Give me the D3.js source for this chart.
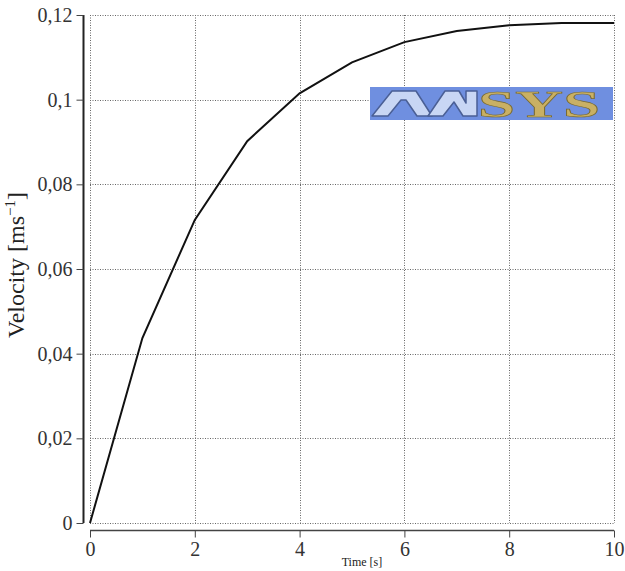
<!DOCTYPE html>
<html>
<head>
<meta charset="utf-8">
<script src="https://cdn.jsdelivr.net/npm/d3@7"></script>
<style>
  body { margin: 0; background: #fff; }
  svg { display: block; }
  text { font-family: "Liberation Serif", "Times New Roman", serif; }
</style>
</head>
<body>
<svg id="chart" width="625" height="571"></svg>
<script>
var timeValues = [0, 1, 2, 3, 4, 5, 6, 7, 8, 9, 10];
var velocityValues = [0, 0.0437, 0.0716, 0.0902, 0.1015, 0.1088, 0.1136, 0.1162, 0.1176, 0.1181, 0.1181];
var xTicks = [0, 2, 4, 6, 8, 10];
var yTicks = [0, 0.02, 0.04, 0.06, 0.08, 0.1, 0.12];

var svg = d3.select("#chart");
var plotLeft = 90, plotRight = 614, plotTop = 15, plotBottom = 523;

var x = d3.scaleLinear().domain([0, 10]).range([plotLeft, plotRight]);
var y = d3.scaleLinear().domain([0, 0.12]).range([plotBottom, plotTop]);

var fmt = function(d) { return d3.format("~g")(d).replace(".", ","); };

// grid
var grid = svg.append("g").attr("stroke", "#666").attr("stroke-dasharray", "1,1.5").attr("stroke-width", 1);
grid.selectAll("line.v").data(xTicks).enter().append("line")
    .attr("x1", function(d) { return Math.round(x(d)) + 0.5; })
    .attr("x2", function(d) { return Math.round(x(d)) + 0.5; })
    .attr("y1", plotTop).attr("y2", plotBottom);
grid.selectAll("line.h").data(yTicks).enter().append("line")
    .attr("y1", function(d) { return Math.round(y(d)) + 0.5; })
    .attr("y2", function(d) { return Math.round(y(d)) + 0.5; })
    .attr("x1", plotLeft).attr("x2", plotRight);

// x axis
var xAxis = d3.axisBottom(x).tickValues(xTicks).tickFormat(fmt).tickSize(7).tickPadding(4);
var xMinor = d3.axisBottom(x).tickValues(d3.range(0, 10.01, 0.5)).tickFormat("").tickSize(4);
var gx = svg.append("g").attr("transform", "translate(0,530.5)");
gx.call(xMinor);
gx.call(xAxis);
gx.selectAll(".domain").attr("stroke", "#444").attr("stroke-width", 1.5).attr("d", "M" + plotLeft + ",0H" + plotRight);
gx.selectAll("line").attr("stroke", "#444");
gx.selectAll("text").attr("font-size", 20).attr("font-family", null).attr("fill", "#333");

// y axis
var yAxis = d3.axisLeft(y).tickValues(yTicks).tickFormat(fmt).tickSize(7).tickPadding(4);
var yMinor = d3.axisLeft(y).tickValues(d3.range(0, 0.1201, 0.005)).tickFormat("").tickSize(4);
var gy = svg.append("g").attr("transform", "translate(83.5,0)");
gy.call(yMinor);
gy.call(yAxis);
gy.selectAll(".domain").attr("stroke", "#222").attr("stroke-width", 2).attr("d", "M0," + plotTop + "V" + plotBottom);
gy.selectAll("line").attr("stroke", "#444");
gy.selectAll("text").attr("font-size", 20).attr("font-family", null).attr("fill", "#333");
gx.attr("font-family", null);
gy.attr("font-family", null);

// curve
var line = d3.line()
    .x(function(d, i) { return x(timeValues[i]); })
    .y(function(d) { return y(d); });
svg.append("path").datum(velocityValues)
    .attr("d", line)
    .attr("fill", "none")
    .attr("stroke", "#111")
    .attr("stroke-width", 2);

// axis titles
svg.append("text")
    .attr("transform", "translate(24,265) rotate(-90)")
    .attr("text-anchor", "middle")
    .attr("font-size", 24)
    .attr("fill", "#222")
    .html('Velocity [ms<tspan dy="-9" font-size="15">−1</tspan><tspan dy="9">]</tspan>');
svg.append("text")
    .attr("x", 362).attr("y", 566)
    .attr("text-anchor", "middle")
    .attr("font-size", 12)
    .attr("fill", "#222")
    .text("Time [s]");

// ANSYS logo
var logo = svg.append("g").attr("transform", "translate(370,87)");
logo.append("rect").attr("width", 243).attr("height", 33).attr("fill", "#6f8fe0");
var an = [
  [[2,29],[22,4],[46,4],[62,29],[47,29],[36,13],[31,13],[18,29]],
  [[58,29],[75,4],[89,4],[96,16],[96,4],[107,4],[107,29],[93,29],[84,15],[73,29]]
];
logo.selectAll("polygon").data(an).enter().append("polygon")
    .attr("points", function(d) { return d.join(" "); })
    .attr("fill", "#c8d6f4")
    .attr("stroke", "#4a5f95")
    .attr("stroke-width", 1.5)
    .attr("stroke-linejoin", "round");
logo.append("text")
    .attr("x", 108).attr("y", 30)
    .attr("font-size", 38)
    .attr("font-weight", "bold")
    .attr("textLength", 122)
    .attr("lengthAdjust", "spacingAndGlyphs")
    .attr("fill", "#c9b064")
    .attr("stroke", "#7a6a30")
    .attr("stroke-width", 0.6)
    .text("SYS");
</script>
</body>
</html>
